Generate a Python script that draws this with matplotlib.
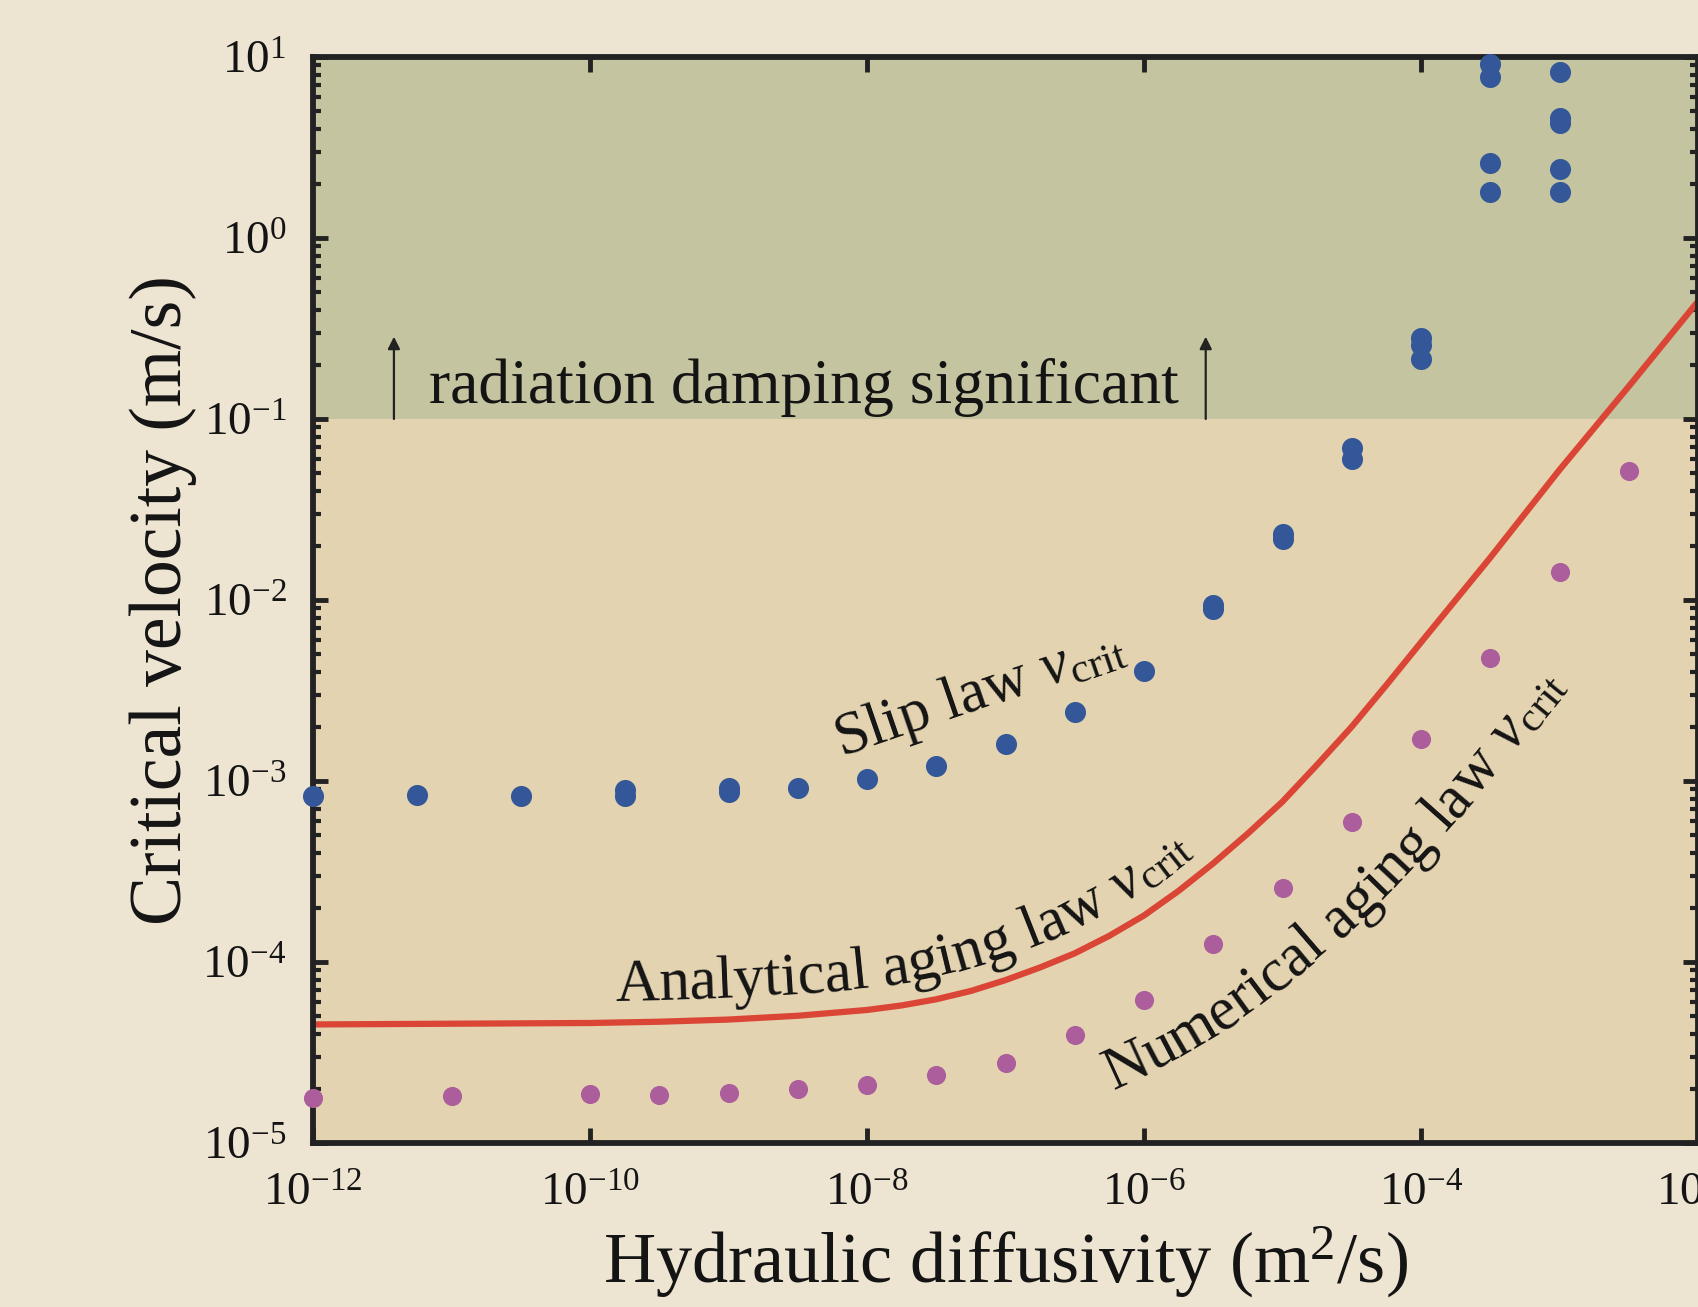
import numpy as np
import matplotlib
matplotlib.use("Agg")
import matplotlib.pyplot as plt
from matplotlib.ticker import LogLocator, NullFormatter, NullLocator, LogFormatterSciNotation
from matplotlib.font_manager import FontProperties

plt.rcParams['font.family'] = ['Liberation Serif', 'DejaVu Serif']
plt.rcParams['mathtext.fontset'] = 'custom'
plt.rcParams['mathtext.rm'] = 'Liberation Serif'
plt.rcParams['mathtext.it'] = 'Liberation Serif:italic'
plt.rcParams['mathtext.bf'] = 'Liberation Serif:bold'

# slip law critical velocity (numerical), several runs per diffusivity
slip_logD = [-12, -11.25, -10.5, -9.75, -9.75, -9, -9, -8.5, -8, -7.5, -7, -6.5, -6,
             -5.5, -5.5, -5, -5, -4.5, -4.5, -4, -4, -4,
             -3.5, -3.5, -3.5, -3.5, -3, -3, -3, -3, -3]
slip_logv = [-3.083, -3.077, -3.083, -3.05, -3.083, -3.04, -3.06, -3.039, -2.989, -2.917,
             -2.796, -2.617, -2.39, -2.03, -2.05, -1.635, -1.665, -1.16, -1.22,
             -0.55, -0.59, -0.67,
             0.961, 0.890, 0.414, 0.254, 0.917, 0.663, 0.635, 0.381, 0.254]

# numerical aging law critical velocity
aging_logD = [-12, -11, -10, -9.5, -9, -8.5, -8, -7.5, -7, -6.5, -6, -5.5, -5, -4.5,
              -4, -3.5, -3, -2.5]
aging_logv = [-4.752, -4.738, -4.73, -4.735, -4.724, -4.70, -4.68, -4.624, -4.558,
              -4.405, -4.208, -3.90, -3.59, -3.225, -2.766, -2.32, -1.845, -1.29]

# analytical aging law critical velocity
anal_logD = [-12, -11, -10, -9.5, -9, -8.5, -8, -7.75, -7.5, -7.25, -7, -6.75, -6.5,
             -6.25, -6, -5.75, -5.5, -5.25, -5, -4.75, -4.5, -4.25, -4, -3.5, -3,
             -2.5, -2]
anal_logv = [-4.345, -4.341, -4.337, -4.330, -4.318, -4.297, -4.265, -4.240, -4.206,
             -4.160, -4.100, -4.030, -3.952, -3.855, -3.743, -3.607, -3.455, -3.290,
             -3.114, -2.910, -2.700, -2.470, -2.234, -1.766, -1.281, -0.820, -0.350]

v_rad = 0.1

bg = '#EDE5D2'
low = '#E3D3B0'
high = '#C5C4A0'
blue = '#335799'
pink = '#AC5E9C'
red = '#DA4535'
ink = '#141414'
spine = '#222222'

W, H = 1698, 1307
fig = plt.figure(figsize=(W / 100, H / 100), dpi=100)
fig.patch.set_facecolor(bg)
ax = fig.add_axes([313 / W, 1 - 1143 / H, (W - 313) / W, (1143 - 57) / H])
ax.set_facecolor(low)
ax.set_xscale('log')
ax.set_yscale('log')
ax.set_xlim(1e-12, 1e-2)
ax.set_ylim(1e-5, 1e1)

ax.axhspan(v_rad, 1e1, color=high, zorder=0, lw=0)

anal_D = 10 ** np.array(anal_logD)
anal_v = 10 ** np.array(anal_logv)
ax.plot(anal_D, anal_v, color=red, lw=4.5, zorder=3, solid_capstyle='butt')
ax.scatter(10 ** np.array(aging_logD), 10 ** np.array(aging_logv), s=190, color=pink,
           lw=0, zorder=5, clip_on=False)
ax.scatter(10 ** np.array(slip_logD), 10 ** np.array(slip_logv), s=230, color=blue,
           lw=0, zorder=5, clip_on=False)

# radiation damping arrows and label
for xa in [3.84e-12, 2.79e-6]:
    ax.annotate('', xy=(xa, 0.285), xytext=(xa, v_rad),
                arrowprops=dict(arrowstyle='-|>', lw=1.6, color=spine,
                                mutation_scale=18, shrinkA=0, shrinkB=0))
ax.text(6.85e-12, 0.122, 'radiation damping significant', fontsize=45.8, color=ink,
        ha='left', va='baseline')

ax.text(6.5e-8, 3.05e-3, r'Slip law $v_{\mathrm{crit}}$', fontsize=44, color=ink,
        rotation=19, rotation_mode='anchor', ha='center', va='center')


# text that follows the analytical curve, at a normal offset (pixels)
renderer = fig.canvas.get_renderer()


def text_width(s, prop):
    w, h, d = renderer.get_text_width_height_descent(s, prop, ismath=False)
    return w


def curved_label(pieces, offset, start_xy, size):
    pts = ax.transData.transform(np.column_stack([anal_D, anal_v]))
    seg = np.hypot(np.diff(pts[:, 0]), np.diff(pts[:, 1]))
    L = np.concatenate([[0], np.cumsum(seg)])
    s = np.linspace(0, L[-1], 4000)
    px = np.interp(s, L, pts[:, 0])
    py = np.interp(s, L, pts[:, 1])
    tx = np.gradient(px)
    ty = np.gradient(py)
    k = np.ones(81) / 81
    tx = np.convolve(np.pad(tx, 40, mode='edge'), k, mode='valid')
    ty = np.convolve(np.pad(ty, 40, mode='edge'), k, mode='valid')
    n = np.hypot(tx, ty)
    tx, ty = tx / n, ty / n
    ox = px - offset * ty
    oy = py + offset * tx
    arc = np.concatenate([[0], np.cumsum(np.hypot(np.diff(ox), np.diff(oy)))])
    ang = np.degrees(np.arctan2(ty, tx))
    i0 = np.argmin(np.hypot(ox - start_xy[0], oy - start_xy[1]))
    cur = arc[i0]
    base = FontProperties(family='Liberation Serif', size=size)
    gap = text_width('a a', base) - text_width('aa', base)
    for text, scale, style, rise in pieces:
        prop = FontProperties(family='Liberation Serif', size=size * scale, style=style)
        for i, ch in enumerate(text):
            if ch == ' ':
                continue
            c = cur + text_width(text[:i + 1], prop) - text_width(ch, prop) / 2
            x = np.interp(c, arc, ox)
            y = np.interp(c, arc, oy)
            a = np.interp(c, arc, ang)
            x -= rise * np.sin(np.radians(a))
            y += rise * np.cos(np.radians(a))
            fig.text(x / W, y / H, ch, fontproperties=prop, color=ink, rotation=a,
                     rotation_mode='anchor', ha='center', va='baseline')
        cur += text_width(text.rstrip(), prop) + (gap if text.endswith(' ') else 1)


curved_label([('Analytical aging law ', 1.0, 'normal', 0), ('v', 1.0, 'italic', 0),
              ('crit', 0.7, 'normal', -5)], 22, (615, H - 1000), 44)
curved_label([('Numerical aging law ', 1.0, 'normal', 0), ('v', 1.0, 'italic', 0),
              ('crit', 0.7, 'normal', -5)], -140, (1112, H - 1087), 44)

# axes styling
for sp in ax.spines.values():
    sp.set_linewidth(4.2)
    sp.set_color(spine)
    sp.set_zorder(4)

ax.xaxis.set_major_locator(LogLocator(base=100.0, numticks=10))
ax.xaxis.set_minor_locator(NullLocator())
ax.xaxis.set_major_formatter(LogFormatterSciNotation(base=10))
ax.xaxis.set_minor_formatter(NullFormatter())
ax.yaxis.set_major_locator(LogLocator(base=10.0, numticks=10))
ax.yaxis.set_minor_locator(LogLocator(base=10.0, subs=np.arange(2, 10), numticks=20))
ax.yaxis.set_minor_formatter(NullFormatter())

ax.tick_params(which='major', direction='in', length=11, width=3.5, color=spine,
               top=True, right=True, labelsize=34, labelcolor=ink)
ax.tick_params(which='minor', direction='in', length=6, width=3, color=spine,
               top=True, right=True)
ax.tick_params(axis='x', which='major', pad=22)
ax.tick_params(axis='y', which='major', pad=19)

ax.set_xlabel(r'Hydraulic diffusivity (m$^2$/s)', fontsize=52, color=ink, labelpad=6)
ax.set_ylabel('Critical velocity (m/s)', fontsize=53, color=ink, labelpad=4)

fig.savefig('out.png', dpi=100, facecolor=bg)
